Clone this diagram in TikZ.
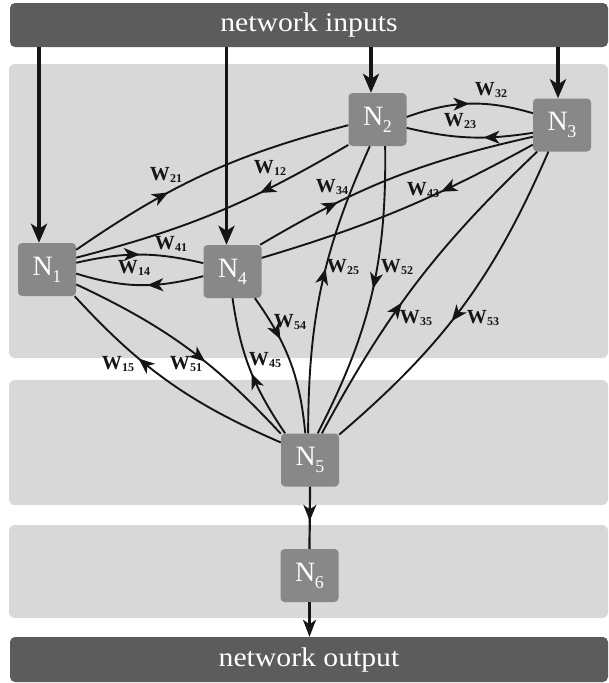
\documentclass[tikz,border=0pt]{standalone}
\usepackage{fontspec}
\setmainfont{Liberation Serif}
\usetikzlibrary{arrows.meta,decorations.markings,calc}
\definecolor{barc}{HTML}{5C5C5C}
\definecolor{bandc}{HTML}{D8D8D8}
\definecolor{boxc}{HTML}{888888}
\definecolor{linec}{HTML}{151515}
\newcommand\nlab[1]{N\kern-0.5pt\raisebox{-7pt}{\fontsize{18}{18}\selectfont #1}}
\newcommand\wlab[1]{{\fontsize{20}{20}\selectfont\bfseries W\kern0.3pt\raisebox{-1.5pt}{\fontsize{12}{12}\selectfont\bfseries #1}}}
\newcommand\bartext[1]{\scalebox{1.1}[1]{\fontsize{27}{27}\selectfont #1}}
\begin{document}
\begin{tikzpicture}[x=1pt,y=-1pt,
  bar/.style={fill=barc, rounded corners=5pt, text=white, inner sep=0pt},
  band/.style={fill=bandc, rounded corners=6pt},
  neuron/.style={fill=boxc, rounded corners=4pt, minimum width=58pt, minimum height=53pt, inner sep=0pt, text=white, font=\fontsize{28}{28}\selectfont},
  wl/.style={inner sep=0pt, text=linec},
  conn/.style={draw=linec, line width=1.9pt},
  marr/.style={postaction={decorate, decoration={markings, mark=at position #1 with {\arrow{Stealth[length=16pt,width=13pt,inset=4.5pt]}}}}},
  inarr/.style={draw=linec, line width=3.8pt, -{Stealth[length=19pt,width=16pt,inset=5pt]}},
]
\useasboundingbox (0,0) rectangle (609,683);
\fill[white] (0,0) rectangle (609,683);
% bands
\fill[band] (9,64) rectangle (608,358);
\fill[band] (9,380) rectangle (608,505);
\fill[band] (9,525) rectangle (608,618);
% bars
\node[bar, minimum width=598pt, minimum height=44pt] (inputs) at (309,25) {\bartext{network inputs}};
\node[bar, minimum width=598pt, minimum height=45pt] (output) at (309,659.5) {\bartext{network output}};
% neurons
\node[neuron] (N1) at (47,269.5) {\nlab{1}};
\node[neuron] (N4) at (232.5,271.5) {\nlab{4}};
\node[neuron] (N2) at (377.5,119.5) {\nlab{2}};
\node[neuron] (N3) at (562,125) {\nlab{3}};
\node[neuron] (N5) at (310,460) {\nlab{5}};
\node[neuron] (N6) at (309.5,575.5) {\nlab{6}};
% input arrows
\draw[inarr] ($(N1.north |- inputs.south)+(-8,0)$) -- ($(N1.north)+(-8,0)$);
\draw[inarr] ($(N4.north |- inputs.south)+(-6,0)$) -- ($(N4.north)+(-6,0)$);
\draw[inarr] ($(N2.north |- inputs.south)+(-6.5,0)$) -- ($(N2.north)+(-6.5,0)$);
\draw[inarr] ($(N3.north |- inputs.south)+(-4,0)$) -- ($(N3.north)+(-4,0)$);
% output path
\draw[conn, line width=2.2pt, marr=0.55] (N5.south) -- (N6.north);
\draw[conn, line width=2.2pt, -{Stealth[length=17pt,width=13pt,inset=4.5pt]}] (N6.south) -- (N6.south |- output.north);
% recurrent connections
\draw[conn, marr=0.36] (N1.34) to[bend left=10] (N2.191);
\draw[conn, marr=0.34] (N2.221) to[bend left=8] (N1.22);
\draw[conn, marr=0.5] (N1.13) to[bend left=13] (N4.164);
\draw[conn, marr=0.44] (N4.189) to[bend left=16] (N1.-8);
\draw[conn, marr=0.30] (N4.44) to[bend left=9] (N3.202);
\draw[conn, marr=0.35] (N3.214) to[bend left=6] (N4.25);
\draw[conn, marr=0.5] (N2.5) to[bend left=18] (N3.158);
\draw[conn, marr=0.39] (N3.195) to[bend left=11] (N2.-16);
\draw[conn, marr=0.56] (N5.94) to[bend left=12] (N2.-106);
\draw[conn, marr=0.48] (N2.-74) to[bend left=14] (N5.74);
\draw[conn, marr=0.43] (N5.66) to[bend left=9] (N3.227);
\draw[conn, marr=0.55] (N3.243) to[bend left=13] (N5.41);
\draw[conn, marr=0.33] (N4.-50) to[bend left=15] (N5.100);
\draw[conn, marr=0.47] (N5.133) to[bend left=13] (N4.-90);
\draw[conn, marr=0.59] (N1.-27) to[bend left=11] (N5.138);
\draw[conn, marr=0.65] (N5.149) to[bend left=12] (N1.-44);
% weight labels
\node[wl] (w21) at (166,175) {\wlab{21}};
\node[wl] (w12) at (270,168) {\wlab{12}};
\node[wl] (w41) at (171,244) {\wlab{41}};
\node[wl] (w14) at (134,268) {\wlab{14}};
\node[wl] (w34) at (332,187) {\wlab{34}};
\node[wl] (w43) at (423,190) {\wlab{43}};
\node[wl] (w32) at (491,90) {\wlab{32}};
\node[wl] (w23) at (460,121) {\wlab{23}};
\node[wl] (w25) at (343,267) {\wlab{25}};
\node[wl] (w52) at (397,267) {\wlab{52}};
\node[wl] (w35) at (416,318) {\wlab{35}};
\node[wl] (w53) at (483,318) {\wlab{53}};
\node[wl] (w54) at (290,322) {\wlab{54}};
\node[wl] (w45) at (265,360) {\wlab{45}};
\node[wl] (w15) at (118,364) {\wlab{15}};
\node[wl] (w51) at (186,364) {\wlab{51}};
\end{tikzpicture}
\end{document}
